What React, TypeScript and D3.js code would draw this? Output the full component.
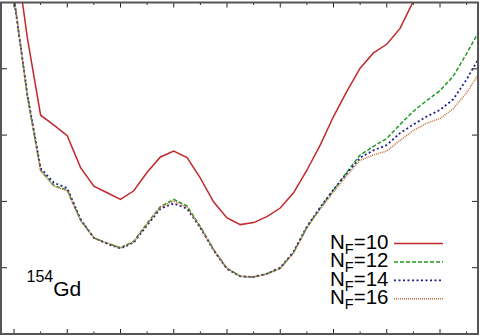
import React from 'react';
import * as d3 from 'd3';

// deformation grid (x) and energies (MeV) for each basis size
const betas = [
  0, 0.025, 0.05, 0.075, 0.1, 0.125, 0.15, 0.175, 0.2, 0.225, 0.25, 0.275,
  0.3, 0.325, 0.35, 0.375, 0.4, 0.425, 0.45, 0.475, 0.5, 0.525, 0.55, 0.575,
  0.6, 0.625, 0.65, 0.675, 0.7, 0.725, 0.75, 0.775, 0.8, 0.825, 0.85, 0.875,
];

const eNF10 = [5.93, 4.47, 3.3, 3.15, 2.99, 2.51, 2.23, 2.13, 2.03, 2.16, 2.44, 2.67, 2.76, 2.66, 2.35, 1.99, 1.75, 1.65, 1.68, 1.77, 1.9, 2.13, 2.47, 2.85, 3.28, 3.66, 4.01, 4.24, 4.37, 4.61, 5.02, 5.45];
const eNF12 = [5.08, 3.6, 2.47, 2.24, 2.17, 1.72, 1.45, 1.37, 1.3, 1.4, 1.67, 1.92, 2.03, 1.93, 1.62, 1.27, 0.99, 0.87, 0.86, 0.91, 0.99, 1.23, 1.61, 1.9, 2.17, 2.44, 2.7, 2.83, 2.95, 3.16, 3.36, 3.52, 3.67, 3.89, 4.23, 4.59];
const eNF14 = [5.05, 3.62, 2.5, 2.28, 2.2, 1.73, 1.45, 1.36, 1.29, 1.38, 1.64, 1.89, 1.97, 1.89, 1.6, 1.26, 0.98, 0.87, 0.86, 0.91, 1.0, 1.24, 1.62, 1.91, 2.18, 2.42, 2.66, 2.77, 2.85, 3.03, 3.16, 3.28, 3.38, 3.54, 3.84, 4.19];
const eNF16 = [5.1, 3.58, 2.46, 2.23, 2.16, 1.71, 1.45, 1.37, 1.3, 1.39, 1.66, 1.91, 2.01, 1.91, 1.61, 1.27, 0.99, 0.87, 0.86, 0.9, 0.99, 1.22, 1.6, 1.88, 2.14, 2.39, 2.62, 2.7, 2.76, 2.92, 3.07, 3.18, 3.25, 3.4, 3.64, 3.95];

const legendLabels = ['10', '12', '14', '16'];
const xMajor = [0, 0.1, 0.2, 0.3, 0.4, 0.5, 0.6, 0.7, 0.8];
const xMinor = [0.05, 0.15, 0.25, 0.35, 0.45, 0.55, 0.65, 0.75, 0.85];
const yTicks = [1, 2, 3, 4];

const series = [
  { values: eNF10, color: '#c0282c', dash: null, width: 1.5 },
  { values: eNF12, color: '#1f9a1f', dash: '4,2', width: 1.5 },
  { values: eNF14, color: '#20208c', dash: '2,2.5', width: 1.8 },
  { values: eNF16, color: '#c8703c', dash: '1,1', width: 1.5 },
];

export default function App() {
  const W = 480, H = 336;
  const left = 1, right = 478, top = 2.5, bottom = 334;

  const x = d3.scaleLinear().domain([0, 0.8]).range([14, 440]);
  const y = d3.scaleLinear().domain([0, 5]).range([bottom, top]);

  const line = d3.line<number>()
    .x((_, i) => x(betas[i]))
    .y(d => y(d));

  const font = '"Liberation Sans", Arial, Helvetica, sans-serif';

  return (
    <svg width={W} height={H} style={{ position: 'absolute', left: 0, top: 0, background: '#fff' }}>
      <defs>
        <clipPath id="plot">
          <rect x={left} y={top} width={right - left} height={bottom - top} />
        </clipPath>
      </defs>

      <g clipPath="url(#plot)" fill="none">
        {series.map((s, i) => (
          <path key={i} d={line(s.values) || ''} stroke={s.color}
            strokeWidth={s.width} strokeDasharray={s.dash || undefined} />
        ))}
      </g>

      {/* ticks */}
      <g stroke="#222" strokeWidth={1}>
        {xMajor.map(t => (
          <g key={'M' + t}>
            <line x1={x(t)} x2={x(t)} y1={bottom} y2={bottom - 5} />
            <line x1={x(t)} x2={x(t)} y1={top} y2={top + 5} />
          </g>
        ))}
        {xMinor.map(t => (
          <g key={'m' + t}>
            <line x1={x(t)} x2={x(t)} y1={bottom} y2={bottom - 2.5} />
            <line x1={x(t)} x2={x(t)} y1={top} y2={top + 2.5} />
          </g>
        ))}
        {yTicks.map(t => (
          <g key={'y' + t}>
            <line x1={left} x2={left + 6} y1={y(t)} y2={y(t)} />
            <line x1={right} x2={right - 6} y1={y(t)} y2={y(t)} />
          </g>
        ))}
      </g>

      <rect x={left} y={top} width={right - left} height={bottom - top}
        fill="none" stroke="#555" strokeWidth={2} />

      {/* legend */}
      <g fontFamily={font} fill="#000">
        {series.map((s, i) => {
          const by = 249 + i * 18.4;
          return (
            <g key={i}>
              <text x={330} y={by} fontSize={20.5}>
                N<tspan fontSize={14.5} dy={5}>F</tspan><tspan dy={-5}>={legendLabels[i]}</tspan>
              </text>
              <line x1={394} x2={443} y1={by - 5.5} y2={by - 5.5} stroke={s.color}
                strokeWidth={s.width} strokeDasharray={s.dash || undefined} />
            </g>
          );
        })}
        <text x={26.5} y={295.5} fontSize={21}>
          <tspan fontSize={16} dy={-14}>154</tspan><tspan dy={14}>Gd</tspan>
        </text>
      </g>
    </svg>
  );
}
